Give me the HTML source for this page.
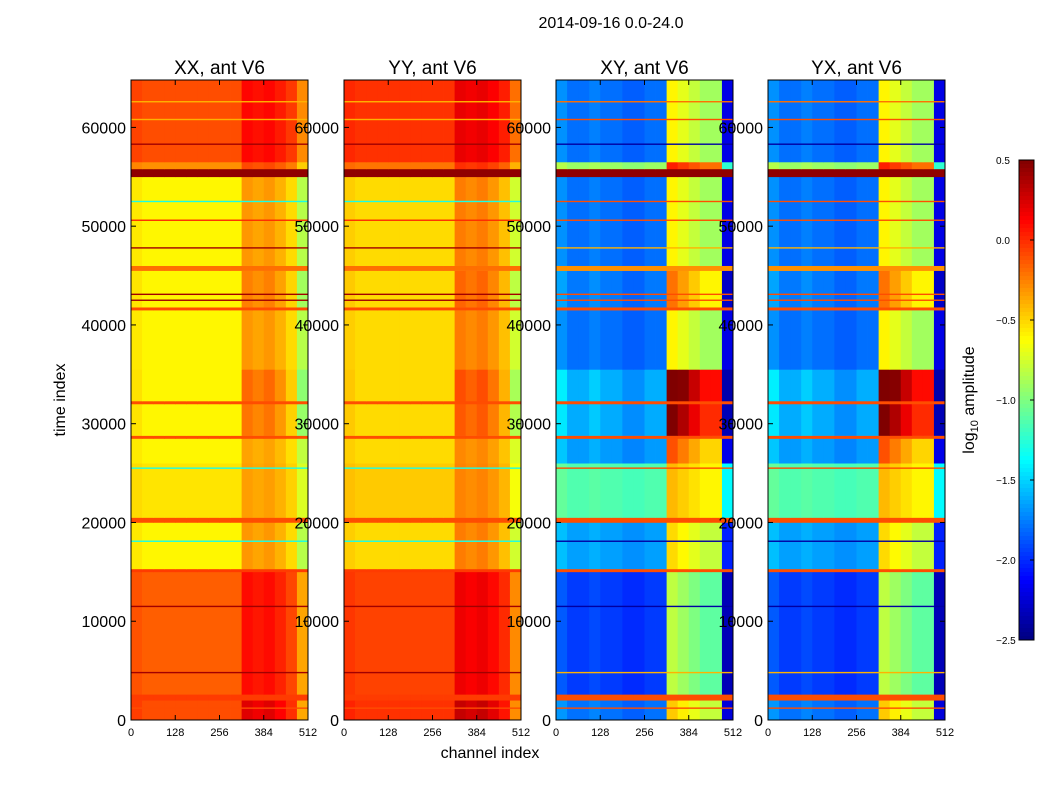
<!DOCTYPE html>
<html><head><meta charset="utf-8"><style>
body{margin:0;background:#fff;}
svg text{font-family:"Liberation Sans","DejaVu Sans",sans-serif;}
</style></head><body>
<svg id="fig" width="1050" height="800" xmlns="http://www.w3.org/2000/svg">
<rect width="1050" height="800" fill="#fff"/>
<text x="611" y="28" font-size="16" text-anchor="middle">2014-09-16 0.0-24.0</text>
<text x="490" y="758" font-size="16" text-anchor="middle">channel index</text>
<text transform="translate(65,400) rotate(-90)" font-size="16" text-anchor="middle">time index</text>
<g id="panels"></g>
<g id="cbar"></g>
</svg>
<script>
// time bands (thousands of time index)
const bandStart = [0,2,2.6,15,15.3,20,20.5,26,28.5,28.8,32,32.3,35.5,41.5,41.8,45.5,46,55,55.8,56.5];
const bandEnd   = [2,2.6,15,15.3,20,20.5,26,28.5,28.8,32,32.3,35.5,41.5,41.8,45.5,46,55,55.8,56.5,64.8];
const autoBase  = [-0.1,-0.05,-0.15,-0.05,-0.6,-0.1,-0.55,-0.6,-0.1,-0.6,-0.1,-0.6,-0.6,-0.1,-0.6,-0.2,-0.6,0.45,-0.3,-0.1];
const autoAct   = [0.9,0,0.7,0,0.8,0,0.6,0.7,0,1.1,0,1.2,0.8,0,1.0,0,0.8,0,0.6,0.6];
const crossBase = [-1.9,-0.1,-2.05,-0.1,-1.75,-0.1,-1.2,-1.8,-0.1,-1.8,-0.1,-1.8,-1.9,-0.1,-1.9,-0.3,-1.9,0.45,-1.0,-1.9];
const crossAct  = [1.1,0,0.95,0,0.95,0,0.6,1.3,0,1.8,0,1.9,1.0,0,1.3,0,1.0,0,0.8,1.0];
// channel bins of 32
const autoCol  = [0.05,0,0,0,0,0,0,0,0,0,0.35,0.3,0.35,0.25,0.1,-0.3];
const crossCol = [0.2,0.1,0.1,0.15,0.1,0.1,0.05,0.05,0.1,0.1,1.3,1.2,1.1,1.0,1.0,-0.3];
// thin flagged lines: time (k), auto value, cross value
const lineT     = [1.2,4.8,11.5,18.1,25.5,42.5,43.1,47.8,50.6,52.5,58.3,60.8,62.6];
const lineAuto  = [-0.1,0.4,0.4,-1.3,-1.3,0.4,0.4,0.4,0.0,-1.3,0.4,-0.4,-0.4];
const lineCross = [-0.1,-0.4,-2.4,-2.4,-0.1,-0.1,-0.1,-0.4,-0.1,-0.1,-2.4,-0.1,-0.2];
const panelTitles = ["XX, ant V6","YY, ant V6","XY, ant V6","YX, ant V6"];
const xTicks = [0,128,256,384,512];
const yTicks = [0,10000,20000,30000,40000,50000,60000];
const cbTicks = [0.5,0.0,-0.5,-1.0,-1.5,-2.0,-2.5];

const NS="http://www.w3.org/2000/svg";
const X0=[131,344,556,768], PW=177, YT=80, YB=720, TMAX=64.8;
const yS=t=>YB-t/TMAX*(YB-YT);
function jet(v){
  let x=(v+2.5)/3; x=Math.max(0,Math.min(1,x));
  const f=(a)=>Math.max(0,Math.min(1,1.5-Math.abs(4*x-a)));
  const r=f(3),g=f(2),b=f(1);
  return `rgb(${Math.round(r*255)},${Math.round(g*255)},${Math.round(b*255)})`;
}
function mk(tag,attrs,parent){const e=document.createElementNS(NS,tag);for(const k in attrs)e.setAttribute(k,attrs[k]);parent.appendChild(e);return e;}
const P=document.getElementById('panels');
for(let p=0;p<4;p++){
  const g=mk('g',{},P);
  
  
  const x0=X0[p], cross=p>=2, cw=PW/autoCol.length;
  for(let b=0;b<bandStart.length;b++){
    const y1=yS(bandEnd[b]), y2=yS(bandStart[b]);
    for(let c=0;c<autoCol.length;c++){
      let v = cross ? crossBase[b]+crossCol[c]*crossAct[b] : autoBase[b]+autoCol[c]*autoAct[b]+(p==1&&autoAct[b]>0?0.08:0);
      const r=mk('rect',{x:x0+c*cw,y:y1,width:cw+0.4,height:y2-y1+0.3,fill:jet(v)},g);
      
      
    }
  }
  for(let i=0;i<lineT.length;i++){
    const l=mk('rect',{x:x0,y:yS(lineT[i])-0.7,width:PW,height:1.4,fill:jet(cross?lineCross[i]:lineAuto[i])},g);
    
    
  }
  mk('rect',{x:x0,y:YT,width:PW,height:YB-YT,fill:'none',stroke:'#000','stroke-width':1},g);
  const t=mk('text',{x:x0+PW/2,y:74,'font-size':19,'text-anchor':'middle'},g);t.textContent=panelTitles[p];
  
  
  xTicks.forEach(v=>{const x=x0+v/512*PW;
    mk('line',{x1:x,x2:x,y1:YB,y2:YB-5,stroke:'#000'},g);mk('line',{x1:x,x2:x,y1:YT,y2:YT+5,stroke:'#000'},g);
    const tx=mk('text',{x:x,y:736,'font-size':11,'text-anchor':'middle'},g);tx.textContent=v;
    
    });
  yTicks.forEach(v=>{const y=yS(v/1000);
    mk('line',{x1:x0,x2:x0+5,y1:y,y2:y,stroke:'#000'},g);mk('line',{x1:x0+PW,x2:x0+PW-5,y1:y,y2:y,stroke:'#000'},g);
    const ty=mk('text',{x:x0-5,y:y+6,'font-size':16,'text-anchor':'end'},g);ty.textContent=v;
    
    });
}
const C=document.getElementById('cbar');
const CX=1019,CW=15,CT=160,CB=640;
for(let i=0;i<120;i++){const v=0.5-3*(i+0.5)/120;
  const r=mk('rect',{x:CX,y:CT+i*(CB-CT)/120,width:CW,height:(CB-CT)/120+0.5,fill:jet(v)},C);
  
  }
mk('rect',{x:CX,y:CT,width:CW,height:CB-CT,fill:'none',stroke:'#000'},C);
cbTicks.forEach(v=>{const y=CT+(0.5-v)/3*(CB-CT);
  mk('line',{x1:CX+CW-4,x2:CX+CW,y1:y,y2:y,stroke:'#000'},C);
  const t=mk('text',{x:996,y:y+4,'font-size':10},C);t.textContent=(v<0?'\u2212':'')+Math.abs(v).toFixed(1);
  
  });
const cl=mk('text',{transform:'translate(974,400) rotate(-90)','font-size':16,'text-anchor':'middle'},C);
cl.innerHTML='log<tspan font-size="11" dy="4">10</tspan><tspan dy="-4"> amplitude</tspan>';


</script>
</body></html>
